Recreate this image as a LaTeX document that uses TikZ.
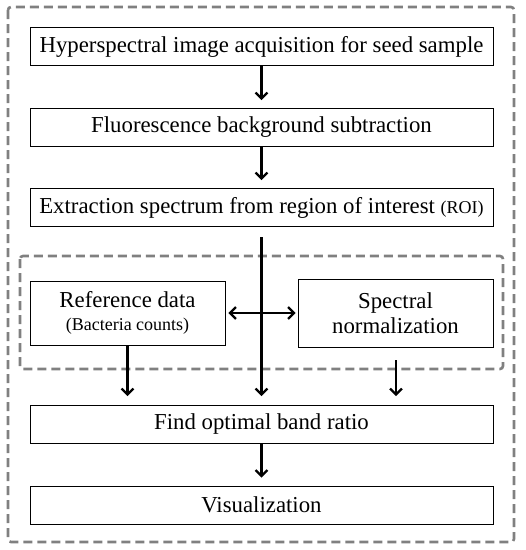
\documentclass[tikz,border=0pt]{standalone}
\usepackage{fontspec}
\setmainfont{Liberation Serif}
\usetikzlibrary{arrows.meta}
\begin{document}
\begin{tikzpicture}[x=1pt,y=-1pt,
        >={Straight Barb[length=6pt,width=12pt]},
        box/.style={draw, line width=0.8pt, inner sep=0pt, minimum width=463pt, minimum height=38pt, align=center, font=\rmfamily\fontsize{22.8}{25}\selectfont},
        halfbox/.style={box, minimum width=195pt},
        small/.style={font=\fontsize{18}{20}\selectfont},
        arr/.style={->, line width=2.2pt},
        frame/.style={draw=black!50, line width=2.6pt, dash pattern=on 9pt off 5pt, rounded corners=3pt}]
        \useasboundingbox (0,0) rectangle (526,550);
        \draw[frame] (8,7) rectangle (514,542);
        \draw[frame] (20,256) rectangle (503,369);

        \node[box] (acq) at (261.5,46.5) {Hyperspectral image acquisition for seed sample};
        \node[box] (sub) at (261.5,127.5) {Fluorescence background subtraction};
        \node[box] (roi) at (261.5,207.5) {Extraction spectrum from region of interest {\fontsize{18}{20}\selectfont(ROI)}};
        \node[halfbox, minimum height=64pt] (ref) at (127.5,313) {Reference data\\[-2pt]{\fontsize{18}{20}\selectfont(Bacteria counts)}};
        \node[halfbox, minimum height=68pt] (norm) at (395.5,313) {Spectral\\normalization};
        \node[box] (band) at (261.5,424.5) {Find optimal band ratio};
        \node[box] (vis) at (261.5,505) {Visualization};
        \coordinate (split) at (261.5,237);
        \coordinate (normout) at (396,360);

        \draw[arr, shorten >=8pt] (acq) -- (sub);
        \draw[arr, shorten >=8pt] (sub) -- (roi);
        \draw[arr, shorten >=9pt] (split) -- (split |- band.north);
        \draw[arr, shorten >=9pt] (ref.south) -- (ref.south |- band.north);
        \draw[arr, shorten >=9pt] (normout) -- (normout |- band.north);
        \draw[arr, <->, shorten <=3pt, shorten >=2pt] (ref.east) -- (norm.west);
        \draw[arr, shorten >=8pt] (band) -- (vis);
\end{tikzpicture}
\end{document}
